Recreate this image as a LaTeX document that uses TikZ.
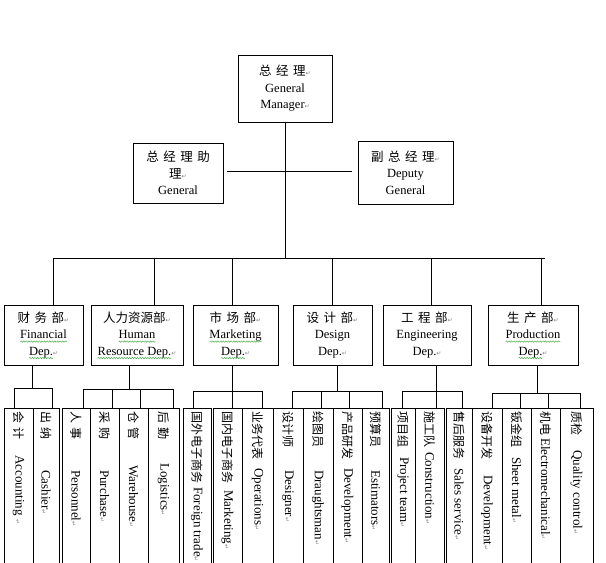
\documentclass[tikz,border=0pt]{standalone}
\usepackage{fontspec}
\setmainfont{Liberation Serif}
\newfontfamily\cjk{Noto Sans CJK SC}
\newfontfamily\dvs{DejaVu Sans}
\usetikzlibrary{decorations.pathmorphing}
\definecolor{wavyg}{RGB}{70,170,70}
\newcommand\gw[1]{\tikz[baseline=(wv.base),x=1pt,y=1pt]{\node[inner sep=0pt,outer sep=0pt,minimum width=0pt,minimum height=0pt,draw=none,anchor=center,align=left,rotate=0] (wv) {#1};\draw[overlay,wavyg,line width=0.45pt,decorate,decoration={snake,amplitude=0.7pt,segment length=2.6pt}] ([yshift=-2.6pt]wv.base west) -- ([yshift=-2.6pt]wv.base east);}}
\newcommand\retmark{{\dvs\fontsize{6}{6}\selectfont\textcolor{gray}{↵}}}
\newcommand\zh[1]{{\cjk #1}}
\newcommand\gap{\hspace{4.5pt}}
\newcommand\mkcol[6]{%
  \node[colbox, minimum width={#3-#2}, minimum height=172] (#1) at ({(#2+#3)/2},494) {};
  \node[vt, font=\fontsize{12}{13}\selectfont] (#1z) at ({(#2+#3)/2},411) {\zh{#4}};
  \node[vt] (#1e) at ({(#2+#3)/2},#5) {#6\retmark};
}
\newcommand\grp[6]{%
  \coordinate (#1s) at (#2,#3);
  \coordinate (#1a) at (#4,#3);
  \coordinate (#1b) at (#5,#3);
  \draw[ln] (#1s |- #1.south) -- (#1s);
  \draw[ln] (#1a) -- (#1b);
  \foreach \dx/\dc in {#6}{\coordinate (tmp) at (\dx,#3); \draw[ln] (tmp) -- (tmp |- \dc.north);}
}
\begin{document}
\begin{tikzpicture}[x=1pt,y=-1pt,
  box/.style={draw, line width=0.8pt, align=center, inner sep=0pt, font=\fontsize{12.5}{16.5}\selectfont},
  colbox/.style={draw, line width=0.8pt, inner sep=0pt},
  vt/.style={rotate=-90, anchor=west, inner sep=0pt, font=\fontsize{13}{14}\selectfont},
  ln/.style={line width=0.8pt}]
\useasboundingbox (0,0) rectangle (606,563);
% top boxes
\node[box, minimum width=94pt, minimum height=67pt] (gm) at (285,88.5) {\zh{总\gap 经\gap 理}\retmark\\General\\Manager\retmark};
\node[box, minimum width=90pt, minimum height=60pt] (asst) at (178,173) {\zh{总\gap 经\gap 理\gap 助}\\\zh{理}\retmark\\General};
\node[box, minimum width=95pt, minimum height=63pt] (dep) at (405.5,172.5) {\zh{副\gap 总\gap 经\gap 理}\retmark\\Deputy\\General};
% departments
\node[box, minimum width=79pt, minimum height=60pt] (fin) at (43.5,335) {\zh{财\gap 务\gap 部}\retmark\\\gw{Financial}\\\gw{Dep.}\retmark};
\node[box, minimum width=92pt, minimum height=60pt] (hr) at (137,335) {\zh{人力资源部}\retmark\\\gw{Human}\\\gw{Resource Dep.}\retmark};
\node[box, minimum width=85pt, minimum height=60pt] (mkt) at (235.5,335) {\zh{市\gap 场\gap 部}\retmark\\\gw{Marketing}\\\gw{Dep.}\retmark};
\node[box, minimum width=79pt, minimum height=60pt] (des) at (332.5,335) {\zh{设\gap 计\gap 部}\retmark\\Design\\Dep.\retmark};
\node[box, minimum width=88pt, minimum height=60pt] (eng) at (427,335) {\zh{工\gap 程\gap 部}\retmark\\Engineering\\Dep.\retmark};
\node[box, minimum width=90pt, minimum height=60pt] (prod) at (533,335) {\zh{生\gap 产\gap 部}\retmark\\\gw{Production}\\\gw{Dep.}\retmark};
% columns
\begin{scope}
\clip (0,0) rectangle (606,563);
\mkcol{c1}{4}{33}{会\gap 计}{455}{Accounting\ }
\mkcol{c2}{33}{59}{出\gap 纳}{470}{Cashier}
\mkcol{c3}{62}{90}{人\gap 事}{470}{Personnel}
\mkcol{c4}{90}{119}{采\gap 购}{470}{Purchase}
\mkcol{c5}{119}{148}{仓\gap 管}{465}{Warehouse}
\mkcol{c6}{148}{179}{后\gap 勤}{463}{Logistics}
\mkcol{c7}{183}{211}{国外电子商务}{487}{Foreign trade}
\mkcol{c8}{213}{242}{国内电子商务}{490}{Marketing}
\mkcol{c9}{242}{273}{业务代表}{468}{Operations}
\mkcol{c10}{273}{303}{设计师}{470}{Designer}
\mkcol{c11}{303}{333}{绘图员}{470}{Draughtsman}
\mkcol{c12}{333}{362}{产品研发}{468}{Development}
\mkcol{c13}{362}{389}{预算员}{470}{Estimators}
\mkcol{c14}{391}{415}{项目组}{457}{Project team}
\mkcol{c15}{415}{444}{施工队}{452}{Construction}
\mkcol{c16}{446}{472}{售后服务}{468}{Sales service}
\mkcol{c17}{472}{502}{设备开发}{475}{Development}
\mkcol{c18}{502}{531}{钣金组}{457}{Sheet metal}
\mkcol{c19}{531}{560}{机电}{438}{Electromechanical}
\mkcol{c20}{560}{593}{质检}{450}{Quality control}
\end{scope}
% top connectors
\coordinate (busL) at (53,258);
\coordinate (busR) at (545,258);
\draw[ln] (gm.south) -- (gm.south |- busL);
\draw[ln] (busL) -- (busR);
\draw[ln] ([shift={(4,-2)}]asst.east) -- ([shift={(-6,-1.5)}]dep.west);
\foreach \dx/\dn in {53/fin,154/hr,232/mkt,332/des,431/eng,541/prod}{
  \coordinate (tmp) at (\dx,258); \draw[ln] (tmp) -- (tmp |- \dn.north);}
% group connectors
\grp{fin}{32}{388}{14}{52}{14/c1,52/c2}
\grp{hr}{129}{389}{83}{173}{83/c3,112/c4,140/c5,173/c6}
\grp{mkt}{232}{391}{193}{262}{193/c7,232/c8,262/c9}
\grp{des}{337}{391}{292}{382}{292/c10,321/c11,349/c12,382/c13}
\grp{eng}{436}{391}{402}{462}{402/c14,436/c15,462/c16}
\grp{prod}{537}{393}{492}{580}{492/c17,520/c18,548/c19,580/c20}
\end{tikzpicture}
\end{document}
